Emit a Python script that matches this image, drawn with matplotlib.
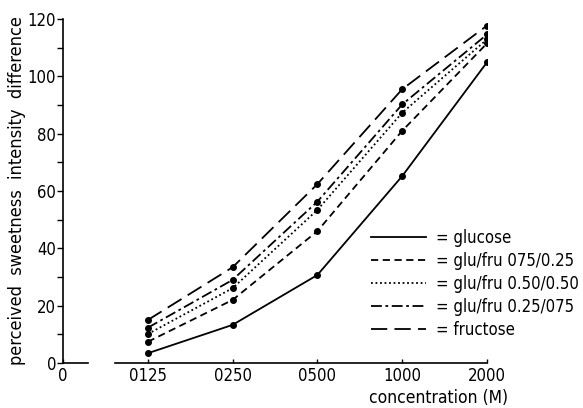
import matplotlib
matplotlib.use("Agg")
import matplotlib.pyplot as plt
from matplotlib.ticker import MultipleLocator

categories = ["0", "0125", "0250", "0500", "1000", "2000"]
conc_pos = [1, 2, 3, 4, 5]

glucose = [3.4, 13.3, 30.7, 65.2, 104.9]
glu_fru_75_25 = [7.4, 22.0, 46.0, 81.0, 111.5]
glu_fru_50_50 = [10.1, 26.1, 53.4, 87.3, 112.9]
glu_fru_25_75 = [12.3, 29.0, 56.3, 90.2, 114.6]
fructose = [15.0, 33.4, 62.4, 95.5, 117.7]

labels = ["= glucose", "= glu/fru 075/0.25", "= glu/fru 0.50/0.50",
          "= glu/fru 0.25/075", "= fructose"]

plt.rcParams['font.family'] = ["DejaVu Sans"]
plt.rcParams['font.stretch'] = "condensed"

fig = plt.figure(figsize=(5.83, 4.08), dpi=100)
ax = fig.add_axes([63/583, 45/408, 424/583, 344/408])

styles = [
    dict(linestyle="-"),
    dict(linestyle=(0, (4, 2.5))),
    dict(linestyle=(0, (1, 1.5))),
    dict(linestyle=(0, (6, 2, 1.5, 2))),
    dict(linestyle=(0, (9, 4))),
]
series = [glucose, glu_fru_75_25, glu_fru_50_50, glu_fru_25_75, fructose]
handles = []
for s, st, lab in zip(series, styles, labels):
    h, = ax.plot(conc_pos, s, color="black", lw=1.3, marker="o", ms=4,
                 **st, label=lab)
    handles.append(h)

ax.set_xlim(0, 5)
ax.set_ylim(0, 120)
for sp in ["top", "right", "bottom"]:
    ax.spines[sp].set_visible(False)
ax.spines["left"].set_linewidth(1.2)

# broken x axis line
ax.plot([0, 0.3], [0, 0], color="black", lw=1.2, clip_on=False)
ax.plot([0.61, 5], [0, 0], color="black", lw=1.2, clip_on=False)

ax.set_xticks(range(len(categories)))
ax.set_xticklabels(categories, fontsize=12)
ax.tick_params(axis="x", direction="in", length=3, width=1, pad=3)
ax.yaxis.set_major_locator(MultipleLocator(20))
ax.yaxis.set_minor_locator(MultipleLocator(10))
ax.tick_params(axis="y", which="major", direction="out", length=4, width=1, labelsize=12, pad=1)
ax.tick_params(axis="y", which="minor", direction="out", length=4, width=1)

ax.set_ylabel("perceived  sweetness  intensity  difference", fontsize=13)
ax.yaxis.set_label_coords(-0.088, 0.5)
ax.set_xlabel("concentration (M)", fontsize=12.5)
ax.xaxis.set_label_coords(0.885, -0.075)

leg = ax.legend(handles=handles, loc="upper left", bbox_to_anchor=(0.71, 0.41),
                frameon=False, fontsize=12, handlelength=3.3, handletextpad=0.6,
                labelspacing=0.3, borderaxespad=0)
for h in leg.legend_handles:
    h.set_marker("")

fig.savefig("out.png", dpi=100)
